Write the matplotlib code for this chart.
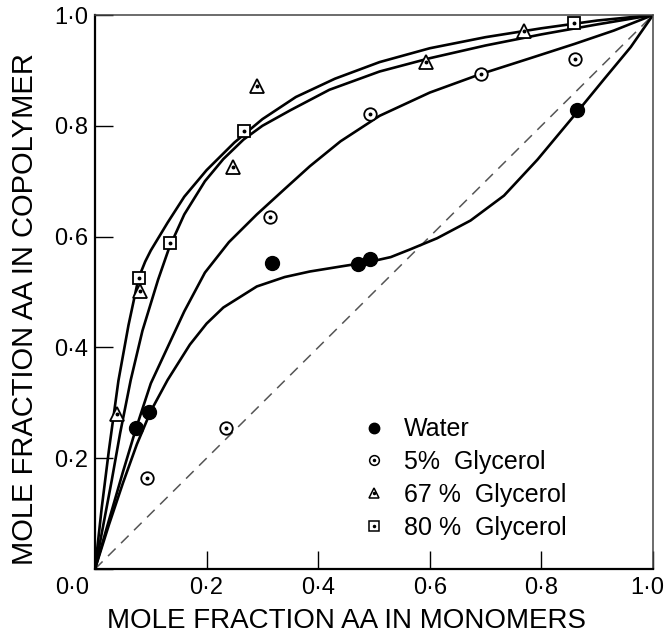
import matplotlib

matplotlib.use("Agg")
import matplotlib.pyplot as plt
from matplotlib.lines import Line2D
from matplotlib.transforms import ScaledTranslation

plt.rcParams["font.family"] = ["Liberation Sans", "DejaVu Sans"]

# measured copolymer compositions (mole fraction AA in monomer feed -> in copolymer)
water_x = [0.073, 0.097, 0.317, 0.471, 0.492, 0.863]
water_y = [0.255, 0.284, 0.552, 0.551, 0.560, 0.828]

gly5_x = [0.094, 0.234, 0.313, 0.492, 0.692, 0.861]
gly5_y = [0.165, 0.255, 0.636, 0.821, 0.893, 0.921]

gly67_x = [0.040, 0.080, 0.248, 0.290, 0.593, 0.768]
gly67_y = [0.279, 0.502, 0.726, 0.872, 0.916, 0.972]

gly80_x = [0.078, 0.135, 0.267, 0.859]
gly80_y = [0.525, 0.588, 0.791, 0.986]

# composition curves drawn through the points
curve80_x = [0, 0.012, 0.025, 0.042, 0.06, 0.078, 0.09, 0.10, 0.13, 0.16, 0.20, 0.25,
             0.30, 0.36, 0.43, 0.51, 0.60, 0.70, 0.80, 0.90, 1.0]
curve80_y = [0, 0.11, 0.215, 0.34, 0.44, 0.525, 0.555, 0.575, 0.625, 0.672, 0.72, 0.77,
             0.812, 0.852, 0.885, 0.915, 0.94, 0.96, 0.976, 0.99, 1.0]

curve67_x = [0, 0.015, 0.03, 0.045, 0.064, 0.085, 0.113, 0.133, 0.16, 0.197, 0.23,
             0.266, 0.30, 0.35, 0.42, 0.51, 0.60, 0.70, 0.80, 0.90, 1.0]
curve67_y = [0, 0.08, 0.16, 0.245, 0.341, 0.43, 0.522, 0.58, 0.64, 0.70, 0.74,
             0.775, 0.80, 0.828, 0.865, 0.898, 0.922, 0.945, 0.965, 0.983, 1.0]

curve5_x = [0, 0.025, 0.05, 0.073, 0.10, 0.13, 0.16, 0.197, 0.24, 0.29,
            0.34, 0.385, 0.44, 0.51, 0.60, 0.69, 0.78, 0.86, 0.93, 1.0]
curve5_y = [0, 0.088, 0.175, 0.252, 0.335, 0.40, 0.465, 0.535, 0.59, 0.64,
            0.686, 0.727, 0.772, 0.818, 0.86, 0.893, 0.922, 0.948, 0.972, 1.0]

curve_water_x = [0, 0.025, 0.05, 0.075, 0.10, 0.13, 0.17, 0.20, 0.23, 0.29, 0.34,
                 0.385, 0.44, 0.49, 0.53, 0.565, 0.613, 0.673, 0.733, 0.793, 0.865,
                 0.913, 0.96, 1.0]
curve_water_y = [0, 0.08, 0.155, 0.225, 0.285, 0.341, 0.405, 0.443, 0.472, 0.51, 0.527,
                 0.537, 0.546, 0.554, 0.563, 0.577, 0.597, 0.629, 0.674, 0.739, 0.826,
                 0.885, 0.942, 1.0]

ticks = [0.0, 0.2, 0.4, 0.6, 0.8, 1.0]
tick_labels = ["", "0·2", "0·4", "0·6", "0·8", "1·0"]

fig = plt.figure(figsize=(6.68, 6.34), dpi=100)
ax = fig.add_axes([95 / 668, 65 / 634, 558 / 668, 554 / 634])

# azeotrope reference
ax.plot([0, 1], [0, 1], color="#555555", lw=1.1, dashes=(7, 5))

for cx, cy in [(curve80_x, curve80_y), (curve67_x, curve67_y),
               (curve5_x, curve5_y), (curve_water_x, curve_water_y)]:
    ax.plot(cx, cy, color="black", lw=1.9, solid_joinstyle="round", solid_capstyle="round")

ax.plot(water_x, water_y, "o", ms=10, color="black", zorder=5)
ax.plot(gly5_x, gly5_y, "o", ms=9, mfc="white", mec="black", mew=1.3, zorder=5)
ax.plot(gly67_x, gly67_y, "^", ms=9.5, mfc="white", mec="black", mew=1.3, zorder=5)
ax.plot(gly80_x, gly80_y, "s", ms=8.5, mfc="white", mec="black", mew=1.3, zorder=5)
for px, py in [(gly5_x, gly5_y), (gly67_x, gly67_y), (gly80_x, gly80_y)]:
    ax.plot(px, py, "o", ms=1.8, color="black", zorder=6)

dot = Line2D([], [], ls="none", marker="o", ms=1.5, color="black")
handles = [
    Line2D([], [], ls="none", marker="o", ms=7.5, color="black"),
    (Line2D([], [], ls="none", marker="o", ms=7, mfc="white", mec="black", mew=1.1), dot),
    (Line2D([], [], ls="none", marker="^", ms=7, mfc="white", mec="black", mew=1.1), dot),
    (Line2D([], [], ls="none", marker="s", ms=6.5, mfc="white", mec="black", mew=1.1), dot),
]
labels = ["Water", "5%  Glycerol", "67 %  Glycerol", "80 %  Glycerol"]
ax.legend(handles, labels, loc="lower left", bbox_to_anchor=(0.46, 0.035),
          frameon=False, fontsize=18, handlelength=1.0, handletextpad=0.7,
          labelspacing=0.35, borderaxespad=0)

ax.set_xlim(0, 1)
ax.set_ylim(0, 1)
ax.set_xticks(ticks)
ax.set_yticks(ticks)
ax.set_xticklabels(tick_labels)
ax.set_yticklabels(tick_labels)
ax.tick_params(direction="in", length=13, width=1.0, labelsize=17, pad=5,
               top=False, right=False)
ax.tick_params(axis="x", pad=6)
# keep the right-hand "1·0" inside the figure
last = ax.get_xticklabels()[-1]
last.set_transform(last.get_transform() + ScaledTranslation(-4 / 72, 0, fig.dpi_scale_trans))
ax.annotate("0·0", xy=(0, 0), xycoords="axes fraction", xytext=(-4, -6),
            textcoords="offset points", ha="right", va="top", fontsize=17)

for side in ["left", "bottom"]:
    ax.spines[side].set_linewidth(1.6)
for side in ["top", "right"]:
    ax.spines[side].set_linewidth(1.1)
    ax.spines[side].set_color("#444444")

ax.set_xlabel("MOLE FRACTION AA IN MONOMERS", fontsize=20)
ax.xaxis.set_label_coords(0.45, -0.094, transform=ax.transAxes)
ax.xaxis.label.set_va("center")
ax.set_ylabel("MOLE FRACTION AA IN COPOLYMER", fontsize=21)
ax.yaxis.set_label_coords(-0.125, 0.47, transform=ax.transAxes)
ax.yaxis.label.set_va("center")

fig.savefig("out.png", dpi=100)
plt.close(fig)
